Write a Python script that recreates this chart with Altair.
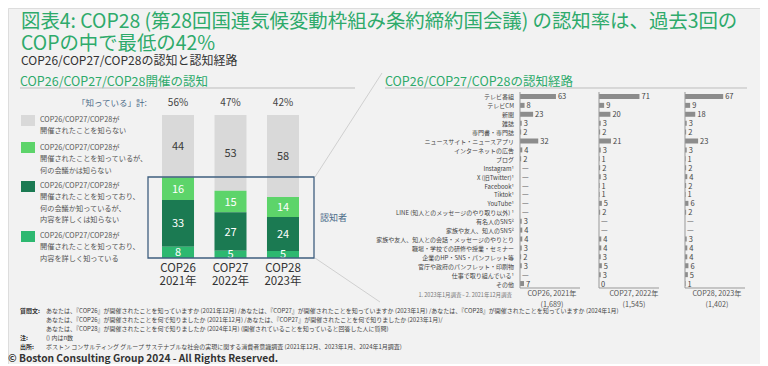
import altair as alt
import pandas as pd

# ---------------- data ----------------
cops = ["COP26", "COP27", "COP28"]
years = ["2021年", "2022年", "2023年"]
known_pct = [56, 47, 42]

seg_names = ["dont_know", "know_not_meeting", "know_meeting_not_content", "know_content"]
seg_colors = ["#d9d9d9", "#5dd46a", "#1b7a52", "#2db870"]
seg_legend = [
    "COP26/COP27/COP28が\n開催されたことを知らない",
    "COP26/COP27/COP28が\n開催されたことを知っているが、\n何の会議かは知らない",
    "COP26/COP27/COP28が\n開催されたことを知っており、\n何の会議か知っているが、\n内容を詳しくは知らない",
    "COP26/COP27/COP28が\n開催されたことを知っており、\n内容を詳しく知っている",
]
dont_know = [44, 53, 58]
know_not_meeting = [16, 15, 14]
know_meeting_not_content = [33, 27, 24]
know_content = [8, 5, 5]

channels = [
    "テレビ番組", "テレビCM", "新聞", "雑誌", "専門書・専門誌",
    "ニュースサイト・ニュースアプリ", "インターネットの広告", "ブログ",
    "Instagram¹", "X (旧Twitter)¹", "Facebook¹", "Tiktok¹", "YouTube¹",
    "LINE (知人とのメッセージのやり取り以外) ¹", "有名人のSNS²", "家族や友人、知人のSNS²",
    "家族や友人、知人との会話・メッセージのやりとり", "職場・学校での研修や授業・セミナー",
    "企業のHP・SNS・パンフレット等", "官庁や政府のパンフレット・印刷物",
    "仕事で取り組んでいる¹", "その他",
]
ch_2021 = [63, 8, 23, 3, 2, 32, 4, 2, None, None, None, None, None, None, 3, 4, 4, 3, 2, 3, None, 7]
ch_2022 = [71, 9, 20, 3, 2, 21, 3, 1, 2, 3, 1, 1, 5, 2, None, None, 4, 4, 3, 5, 3, 0]
ch_2023 = [67, 9, 18, 3, 2, 23, 3, 1, 2, 4, 2, 1, 6, 2, None, None, 3, 4, 4, 6, 5, 1]
col_titles = ["COP26, 2021年", "COP27, 2022年", "COP28, 2023年"]
n_counts = ["(1,689)", "(1,545)", "(1,402)"]

title1 = "図表4: COP28 (第28回国連気候変動枠組み条約締約国会議) の認知率は、過去3回の"
title2 = "COPの中で最低の42%"
subtitle = "COP26/COP27/COP28の認知と認知経路"
left_head = "COP26/COP27/COP28開催の認知"
right_head = "COP26/COP27/COP28の認知経路"
footnote_right = "1. 2023年1月調査~  2. 2021年12月調査"
foot_q = [
    "あなたは、『COP26』が開催されたことを知っていますか (2021年12月) /あなたは、『COP27』が開催されたことを知っていますか (2023年1月) /あなたは、『COP28』が開催されたことを知っていますか (2024年1月)",
    "あなたは、『COP26』が開催されたことを何で知りましたか (2021年12月) /あなたは、『COP27』が開催されたことを何で知りましたか (2023年1月)/",
    "あなたは、『COP28』が開催されたことを何で知りましたか (2024年1月) (開催されていることを知っていると回答した人に質問)",
]
foot_note = "() 内はn数"
foot_src = "ボストン コンサルティング グループ サステナブルな社会の実現に関する消費者意識調査 (2021年12月、2023年1月、2024年1月調査)"
copyright = "© Boston Consulting Group 2024 - All Rights Reserved."

# ---------------- layout helpers ----------------
OX, OY = 8, 8
W, H = 752, 356
GREEN = "#2eaa6b"
BLUEGRAY = "#4a6a88"
TXT = "#444444"
one = pd.DataFrame({"k": [0]})


def px(X):
    return X - OX


def py(Y):
    return Y - OY


def txt(s, X, Y, size, color=TXT, align="left", weight="normal", baseline="middle", lh=None):
    kw = dict(fontSize=size, color=color, align=align, fontWeight=weight, baseline=baseline, lineBreak="\n")
    if lh:
        kw["lineHeight"] = lh
    if baseline == "middle":
        Y = Y + size * 0.12
    return alt.Chart(one).mark_text(**kw).encode(
        x=alt.value(px(X)), y=alt.value(py(Y)), text=alt.value(s)
    )


def line(X1, Y1, X2, Y2, color, w=1.0):
    return alt.Chart(one).mark_rule(color=color, strokeWidth=w).encode(
        x=alt.value(px(X1)), y=alt.value(py(Y1)), x2=alt.value(px(X2)), y2=alt.value(py(Y2))
    )


def box(X1, Y1, X2, Y2, fill=None, stroke=None, w=1.0):
    kw = {}
    if fill:
        kw["fill"] = fill
    else:
        kw["filled"] = False
        kw["fillOpacity"] = 0
    if stroke:
        kw["stroke"] = stroke
        kw["strokeWidth"] = w
    return alt.Chart(one).mark_rect(**kw).encode(
        x=alt.value(px(X1)), y=alt.value(py(Y1)), x2=alt.value(px(X2)), y2=alt.value(py(Y2))
    )


layers = []

# ---------------- titles ----------------
layers.append(txt(title1, 21, 20, 19.4, GREEN))
layers.append(txt(title2, 21, 42, 19.4, GREEN))
layers.append(txt(subtitle, 21, 60, 12, "#333333"))
layers.append(txt(left_head, 20, 80, 12.5, GREEN))
layers.append(txt(right_head, 385, 80, 12.5, GREEN))
layers.append(line(20, 88, 355, 88, "#bdbdbd"))
layers.append(line(385, 88, 747, 88, "#bdbdbd"))

# ---------------- left stacked bars ----------------
rows = []
for i, c in enumerate(cops):
    vals = [dont_know[i], know_not_meeting[i], know_meeting_not_content[i], know_content[i]]
    for j, (s, v) in enumerate(zip(seg_names, vals)):
        rows.append({"cop": c, "seg": s, "val": v, "order": 3 - j,
                     "lc": "#3a3a3a" if j == 0 else "#ffffff"})
stack_df = pd.DataFrame(rows)

xs_left = alt.Scale(type="band", domain=cops, range=[px(162), px(299)], paddingInner=0.39, paddingOuter=0)
ys_left = alt.Scale(domain=[0, 1], range=[py(258), py(115)], nice=False, zero=False)

base_stack = alt.Chart(stack_df).transform_stack(
    stack="val", groupby=["cop"], sort=[alt.SortField("order", order="ascending")],
    as_=["y0", "y1"], offset="normalize"
).transform_calculate(mid="(datum.y0 + datum.y1) / 2")

layers.append(base_stack.mark_bar().encode(
    x=alt.X("cop:N", scale=xs_left, axis=None),
    y=alt.Y("y0:Q", scale=ys_left, axis=None),
    y2="y1:Q",
    color=alt.Color("seg:N", scale=alt.Scale(domain=seg_names, range=seg_colors), legend=None),
))
layers.append(base_stack.mark_text(fontSize=11, baseline="middle", dy=1).encode(
    x=alt.X("cop:N", scale=xs_left, axis=None),
    y=alt.Y("mid:Q", scale=ys_left, axis=None),
    text="val:Q",
    color=alt.Color("lc:N", scale=None),
))

top_df = pd.DataFrame({"cop": cops, "pct": [f"{v}%" for v in known_pct],
                       "lbl": [f"{c}\n{y}" for c, y in zip(cops, years)]})
layers.append(alt.Chart(top_df).mark_text(fontSize=10, color=TXT, baseline="middle", dy=1).encode(
    x=alt.X("cop:N", scale=xs_left, axis=None), y=alt.value(py(102)), text="pct:N"))
layers.append(alt.Chart(top_df).mark_text(fontSize=11.5, color="#333333", baseline="top",
                                           lineBreak="\n", lineHeight=13).encode(
    x=alt.X("cop:N", scale=xs_left, axis=None), y=alt.value(py(263)), text="lbl:N"))
layers.append(txt("「知っている」計:", 147, 102, 8.5, BLUEGRAY, align="right"))

# known box + label
layers.append(box(148, 177, 314, 258, stroke="#3f5f7f", w=1.3))
layers.append(txt("認知者", 320, 217, 9, BLUEGRAY))
# connector lines
layers.append(line(315, 177, 382, 73, "#d0d0d0"))
layers.append(line(315, 258, 380, 302, "#d0d0d0"))

# legend
leg_pos = [(115, 126, 116), (142, 153, 144), (181, 192, 182), (231, 242, 232)]
for (y1, y2, ty), col, lab in zip(leg_pos, seg_colors, seg_legend):
    layers.append(box(21, y1, 35, y2, fill=col))
    layers.append(txt(lab, 40, ty, 7.2, "#555555", baseline="top", lh=11.3))

# ---------------- right panels ----------------
ys_right = alt.Scale(type="band", domain=channels, range=[py(92), py(288)], paddingInner=0.44, paddingOuter=0.22)
ch_df = pd.DataFrame({"ch": channels})
layers.append(alt.Chart(ch_df).mark_text(align="right", baseline="middle", fontSize=6.0, color=TXT, dy=1).encode(
    y=alt.Y("ch:N", scale=ys_right, axis=None), x=alt.value(px(514)), text="ch:N"))

axis_x = [520, 599, 685]
title_x = [552, 634, 717]
for ax, tx, vals, ttl, n in zip(axis_x, title_x, [ch_2021, ch_2022, ch_2023], col_titles, n_counts):
    df = pd.DataFrame({
        "ch": channels,
        "v": [v if v is not None else 0 for v in vals],
        "lab": [str(v) if v is not None else "—" for v in vals],
    })
    xs = alt.Scale(domain=[0, 100], range=[px(ax), px(ax) + 57], nice=False)
    layers.append(alt.Chart(df).mark_bar(color="#8c8c8c").encode(
        y=alt.Y("ch:N", scale=ys_right, axis=None),
        x=alt.X("v:Q", scale=xs, axis=None)))
    layers.append(alt.Chart(df).mark_text(align="left", baseline="middle", dx=2, dy=1, fontSize=7.5, color=TXT).encode(
        y=alt.Y("ch:N", scale=ys_right, axis=None),
        x=alt.X("v:Q", scale=xs, axis=None),
        text="lab:N"))
    layers.append(line(ax, 92, ax, 288, "#999999"))
    layers.append(line(ax, 288, ax + 60, 288, "#999999"))
    layers.append(txt(ttl + "\n" + n, tx, 289.5, 7.2, "#555555", align="center", baseline="top", lh=11))

layers.append(txt(footnote_right, 512, 294, 5.5, "#777777", align="right"))

# ---------------- footer ----------------
layers.append(txt("質問文:", 20, 310, 6, "#333333", weight="bold"))
for k, (s, Y) in enumerate(zip(foot_q, [310, 319, 328])):
    layers.append(txt(s, 46, Y, 6, TXT))
layers.append(txt("注:", 20, 337, 6, "#333333", weight="bold"))
layers.append(txt(foot_note, 46, 337, 6, TXT))
layers.append(txt("出所:", 20, 346, 6, "#333333", weight="bold"))
layers.append(txt(foot_src, 46, 346, 6, TXT))
layers.append(txt(copyright, 8, 357.5, 10.2, "#333333", weight="bold"))

chart = alt.layer(*layers).resolve_scale(
    x="independent", y="independent", color="independent"
).properties(
    width=W, height=H, padding=0, background="#f2f2f2",
    autosize=alt.AutoSizeParams(type="none"),
).configure_view(stroke=None).configure(font="Noto Sans CJK JP")

chart.save("out.html", embed_options={"renderer": "svg", "actions": False})
